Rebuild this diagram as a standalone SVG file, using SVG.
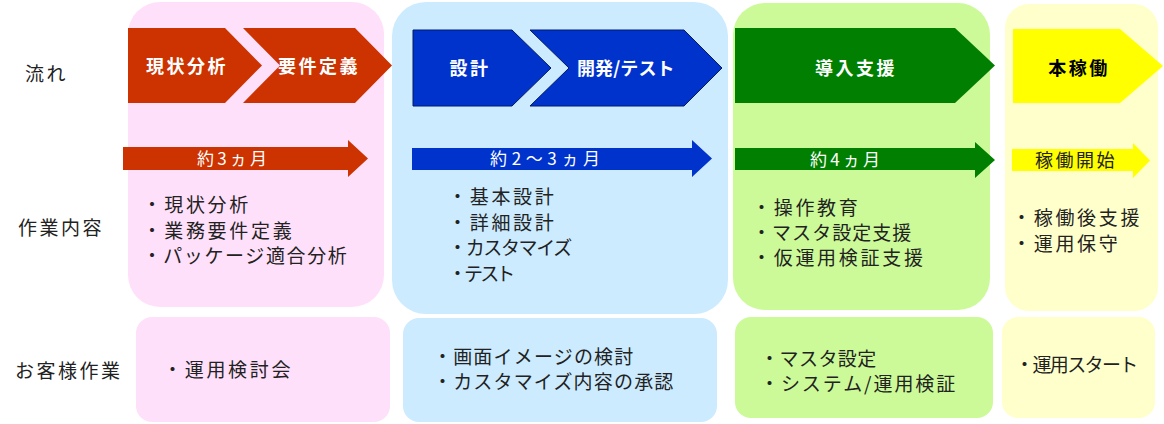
<svg xmlns="http://www.w3.org/2000/svg" width="1164" height="424" viewBox="0 0 1164 424">
<style>
text{font-family:"Noto Sans CJK JP","Noto Sans",sans-serif;}
.lbl{font-size:19px;fill:#222;letter-spacing:2.5px;}
.item{font-size:19px;fill:#222;letter-spacing:2.7px;}
.hd{font-size:18px;font-weight:bold;fill:#fff;letter-spacing:2.5px;text-anchor:middle;}
.dur{font-size:17px;fill:#fff;letter-spacing:1px;}
.red{fill:#CC3300;}
.blue{fill:#0033CC;stroke:#001a66;stroke-width:1;}
.green{fill:#007F00;}
.yellow{fill:#FFFF00;}
.pk{fill:#FFE0FA;}
.lb{fill:#CCEBFF;}
.lg{fill:#CCFA99;}
.ly{fill:#FFFFCC;}
</style>
<rect width="1164" height="424" fill="#fff"/>

<g id="row-labels">
<text class="lbl" x="25" y="81">流れ</text>
<text class="lbl" x="18" y="235">作業内容</text>
<text class="lbl" x="15" y="378">お客様作業</text>
</g>

<g id="panel-phase1">
<rect class="pk" x="128" y="2" width="256" height="305" rx="32"/>
<text class="item" x="142.5" y="212">・現状分析</text>
<text class="item" x="142.5" y="238">・業務要件定義</text>
<text class="item" x="142.5" y="263" textLength="207" lengthAdjust="spacing">・パッケージ適合分析</text>
</g>
<g id="panel-phase2">
<rect class="lb" x="392" y="2" width="336" height="312" rx="34"/>
<text class="item" x="448" y="204">・基本設計</text>
<text class="item" x="448" y="230">・詳細設計</text>
<text class="item" x="448" y="255" textLength="127" lengthAdjust="spacing">・カスタマイズ</text>
<text class="item" x="448" y="281" textLength="70" lengthAdjust="spacing">・テスト</text>
</g>
<g id="panel-phase3">
<rect class="lg" x="733" y="3" width="257" height="307" rx="32"/>
<text class="item" x="752" y="215">・操作教育</text>
<text class="item" x="752" y="240" textLength="162" lengthAdjust="spacing">・マスタ設定支援</text>
<text class="item" x="752" y="265">・仮運用検証支援</text>
</g>
<g id="panel-phase4">
<rect class="ly" x="1005" y="4" width="153" height="307" rx="24"/>
<text class="item" x="1012" y="225">・稼働後支援</text>
<text class="item" x="1012" y="251">・運用保守</text>
</g>

<g id="customer1">
<rect class="pk" x="136" y="317" width="254" height="105" rx="16"/>
<text class="item" x="163" y="377">・運用検討会</text>
</g>
<g id="customer2">
<rect class="lb" x="403" y="318" width="314" height="104" rx="16"/>
<text class="item" x="433" y="364" textLength="203" lengthAdjust="spacing">・画面イメージの検討</text>
<text class="item" x="433" y="389" textLength="243" lengthAdjust="spacing">・カスタマイズ内容の承認</text>
</g>
<g id="customer3">
<rect class="lg" x="735" y="317" width="258" height="101" rx="16"/>
<text class="item" x="760" y="366" textLength="119" lengthAdjust="spacing">・マスタ設定</text>
<text class="item" x="760" y="391" textLength="198" lengthAdjust="spacing">・システム/運用検証</text>
</g>
<g id="customer4">
<rect class="ly" x="1002" y="317" width="153" height="101" rx="16"/>
<text class="item" x="1015" y="372" textLength="126" lengthAdjust="spacing">・運用スタート</text>
</g>

<g id="flow-genjou">
<polygon class="red" points="128,28 225,28 262,65.5 225,103 128,103"/>
<text class="hd" x="187" y="73">現状分析</text>
</g>
<g id="flow-youken">
<polygon class="red" points="243,28 355,28 392,65.5 355,103 243,103 280,65.5"/>
<text class="hd" x="319" y="73">要件定義</text>
</g>
<g id="flow-sekkei">
<polygon class="blue" points="413,30 512,30 551,68 512,106 413,106"/>
<text class="hd" x="470" y="75">設計</text>
</g>
<g id="flow-kaihatsu">
<polygon class="blue" points="530,30 684,30 722,68 684,106 530,106 569,68"/>
<text class="hd" x="627" y="75" textLength="100" lengthAdjust="spacing">開発/テスト</text>
</g>
<g id="flow-dounyu">
<polygon class="green" points="735,28 955,28 995,65.5 955,103 735,103"/>
<text class="hd" x="856" y="75">導入支援</text>
</g>
<g id="flow-honkadou">
<polygon class="yellow" points="1013,29 1120,29 1163,66 1120,103 1013,103"/>
<text class="hd" x="1079" y="75" style="fill:#000">本稼働</text>
</g>

<g id="connectors">
<g id="dur1">
<polygon class="red" points="123,147 348,147 348,140 368,158.5 348,177 348,170 123,170"/>
<text class="dur" x="197" y="165" textLength="71" lengthAdjust="spacing">約3ヵ月</text>
</g>
<g id="dur2">
<polygon class="blue" style="stroke:none" points="412,148 692,148 692,140 712,158.5 692,177 692,170 412,170"/>
<text class="dur" x="490" y="165" textLength="111" lengthAdjust="spacing">約2〜3ヵ月</text>
</g>
<g id="dur3">
<polygon class="green" points="735,148 975,148 975,142 995,160 975,178 975,170 735,170"/>
<text class="dur" x="810" y="166" textLength="71" lengthAdjust="spacing">約4ヵ月</text>
</g>
<g id="dur4">
<polygon class="yellow" points="1012,149 1133,149 1133,143 1150,160.5 1133,178 1133,171 1012,171"/>
<text class="dur" x="1035" y="167" style="fill:#222;font-size:18px;letter-spacing:2.5px">稼働開始</text>
</g>
</g>
</svg>
